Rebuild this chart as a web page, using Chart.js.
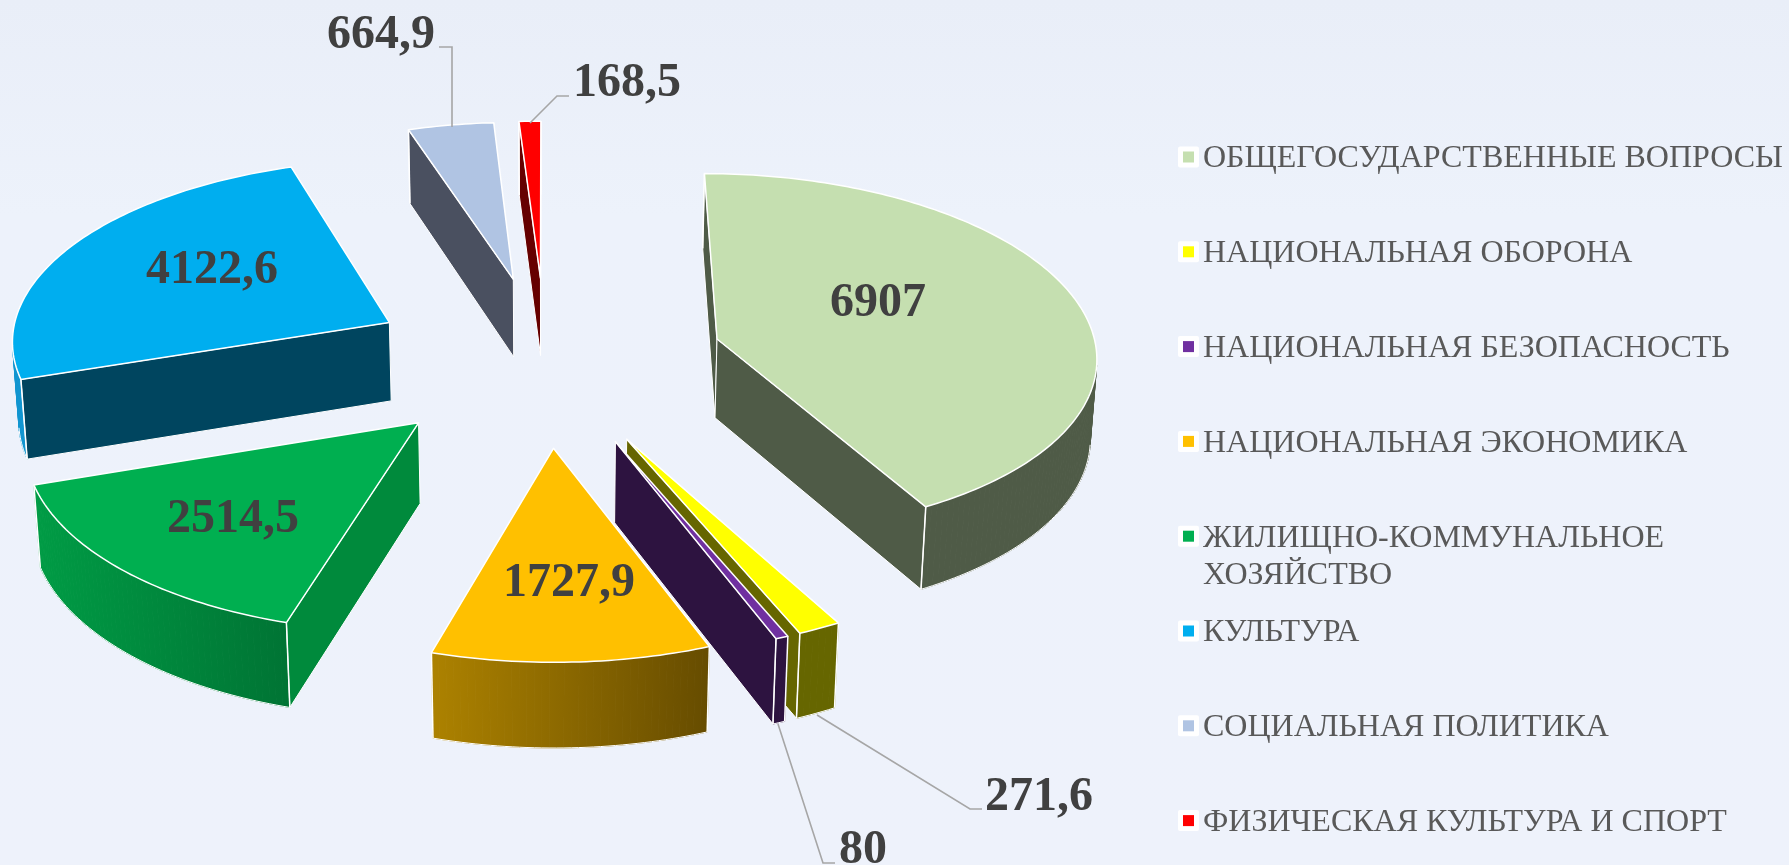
<!doctype html>
<html>
<head>
  <meta charset="utf-8">
  <script src="https://cdn.jsdelivr.net/npm/chart.js@4/dist/chart.umd.min.js"></script>
  <style>
    html, body { margin: 0; padding: 0; background: linear-gradient(#e9eef8, #edf2fb 25%, #eef2fb); }
    #wrap { width: 1789px; height: 865px; }
  </style>
</head>
<body>
  <div id="wrap"><canvas id="c"></canvas></div>
  <script>
    const categories = ['ОБЩЕГОСУДАРСТВЕННЫЕ ВОПРОСЫ', 'НАЦИОНАЛЬНАЯ ОБОРОНА', 'НАЦИОНАЛЬНАЯ БЕЗОПАСНОСТЬ', 'НАЦИОНАЛЬНАЯ ЭКОНОМИКА',
      ['ЖИЛИЩНО-КОММУНАЛЬНОЕ', 'ХОЗЯЙСТВО'], 'КУЛЬТУРА', 'СОЦИАЛЬНАЯ ПОЛИТИКА', 'ФИЗИЧЕСКАЯ КУЛЬТУРА И СПОРТ'];
    const values = [6907, 271.6, 80, 1727.9, 2514.5, 4122.6, 664.9, 168.5];

    const topColors = ['#C5DFB0', '#FFFF00', '#7030A0', '#FFC000', '#00AF50', '#00AEEF', '#B0C4E3', '#FF0000'];
    const sideColors = ['#4F5B47', '#666600', '#2D1340', '#664C00', '#008A3C', '#00455F', '#4A5060', '#660000'];
    const rimFrom = ['#4F5B47', '#666600', '#2D1340', '#AD8200', '#009C45', '#1095D0', '#4A5060', '#660000'];
    const rimTo = ['#4F5B47', '#666600', '#2D1340', '#664C00', '#007434', '#1095D0', '#4A5060', '#660000'];

    // label centres and leader lines on the page
    const labelAt = [[878, 300], [1039, 794], [863, 847], [569, 580], [233, 516], [212, 267], [381, 32], [627, 80]];
    const leaders = [null, [[817, 715], [970, 809], [982, 809]], [[778, 724], [823, 863], [835, 863]], null, null, null,
      [[452, 127], [452, 47], [439, 47]], [[530, 123], [557, 96], [569, 96]]];

    const SERIF = '"Liberation Serif", serif';
    const EXPLODE = 0.468, PERSP = 0.08, SINK = 0.012, KX = 1.058, KY = 0.505, DEPTH = 0.223;

    const fmt = v => String(v).replace('.', ',');

    function project(el, u, v, z) {
      const w = 1 - PERSP * v + SINK * z;
      return [el.x + el.outerRadius * KX * u / w, el.y + el.outerRadius * (KY * v + DEPTH * z) / w];
    }

    function poly(ctx, pts) {
      ctx.beginPath();
      pts.forEach((p, i) => i ? ctx.lineTo(p[0], p[1]) : ctx.moveTo(p[0], p[1]));
      ctx.closePath();
    }

    // screen area sign tells which walls face the viewer
    function area(pts) {
      let a = 0;
      pts.forEach((p, i) => { const q = pts[(i + 1) % pts.length]; a += p[0] * q[1] - q[0] * p[1]; });
      return a / 2;
    }

    function drawSlice(ctx, el, i) {
      const mid = (el.startAngle + el.endAngle) / 2;
      const au = EXPLODE * Math.cos(mid), av = EXPLODE * Math.sin(mid);
      const steps = Math.max(2, Math.ceil((el.endAngle - el.startAngle) / (Math.PI / 180)));
      const rim = [];
      for (let s = 0; s <= steps; s++) {
        const a = el.startAngle + (el.endAngle - el.startAngle) * s / steps;
        rim.push([au + Math.cos(a), av + Math.sin(a)]);
      }
      const P = (g, z) => project(el, g[0], g[1], z);
      const apex = [au, av];

      const xs = rim.map(g => P(g, 0)[0]);
      const grad = ctx.createLinearGradient(Math.min(...xs), 0, Math.max(...xs), 0);
      grad.addColorStop(0, rimFrom[i]);
      grad.addColorStop(1, rimTo[i]);

      ctx.lineJoin = 'round';
      // curved wall
      for (let s = 0; s < steps; s++) {
        const q = [P(rim[s], 0), P(rim[s + 1], 0), P(rim[s + 1], 1), P(rim[s], 1)];
        if (area(q) <= 0) {
          poly(ctx, q);
          ctx.fillStyle = grad; ctx.fill();
          ctx.strokeStyle = grad; ctx.lineWidth = 1; ctx.stroke();
        }
      }
      // white bottom edge of the curved wall
      ctx.strokeStyle = '#ffffff';
      ctx.lineWidth = 1;
      for (let s = 0; s < steps; s++) {
        const q = [P(rim[s], 0), P(rim[s + 1], 0), P(rim[s + 1], 1), P(rim[s], 1)];
        if (area(q) <= 0) {
          ctx.beginPath(); ctx.moveTo(q[2][0], q[2][1]); ctx.lineTo(q[3][0], q[3][1]); ctx.stroke();
        }
      }
      // the two flat walls
      const flats = [
        [P(apex, 0), P(rim[0], 0), P(rim[0], 1), P(apex, 1)],
        [P(rim[steps], 0), P(apex, 0), P(apex, 1), P(rim[steps], 1)]
      ];
      flats.forEach(q => {
        if (area(q) <= 0) {
          poly(ctx, q);
          ctx.fillStyle = sideColors[i]; ctx.fill();
          ctx.strokeStyle = '#ffffff'; ctx.lineWidth = 1; ctx.stroke();
        }
      });
      // vertical edges at the ends of the rim
      [rim[0], rim[steps]].forEach(g => {
        const a = P(g, 0), b = P(g, 1);
        ctx.strokeStyle = '#ffffff'; ctx.lineWidth = 1.5;
        ctx.beginPath(); ctx.moveTo(a[0], a[1]); ctx.lineTo(b[0], b[1]); ctx.stroke();
      });
      // top face
      poly(ctx, [P(apex, 0)].concat(rim.map(g => P(g, 0))));
      ctx.fillStyle = topColors[i]; ctx.fill();
      ctx.strokeStyle = '#ffffff'; ctx.lineWidth = 1.5; ctx.stroke();
    }

    function drawLegend(ctx) {
      ctx.save();
      ctx.textBaseline = 'middle';
      ctx.textAlign = 'left';
      categories.forEach((c, i) => {
        const y = 157 + i * 94.8;
        ctx.fillStyle = '#ffffff';
        ctx.beginPath(); ctx.roundRect(1178, y - 10.5, 21, 21, 2); ctx.fill();
        ctx.fillStyle = topColors[i];
        ctx.fillRect(1183, y - 5.5, 11, 11);
        ctx.fillStyle = '#595959';
        ctx.font = '32px ' + SERIF;
        [].concat(c).forEach((line, n) => ctx.fillText(line, 1203, y + 2 + n * 37));
      });
      ctx.restore();
    }

    function drawLabels(ctx) {
      ctx.save();
      leaders.forEach(l => {
        if (!l) return;
        ctx.strokeStyle = '#A6A6A6'; ctx.lineWidth = 1.6;
        ctx.beginPath();
        l.forEach((p, n) => n ? ctx.lineTo(p[0], p[1]) : ctx.moveTo(p[0], p[1]));
        ctx.stroke();
      });
      ctx.font = 'bold 48px ' + SERIF;
      ctx.fillStyle = '#404040';
      ctx.textAlign = 'center';
      ctx.textBaseline = 'middle';
      values.forEach((v, i) => ctx.fillText(fmt(v), labelAt[i][0], labelAt[i][1] + 3.5));
      ctx.restore();
    }

    const pie3d = {
      id: 'pie3d',
      beforeDatasetDraw(chart, args) {
        const ctx = chart.ctx;
        const arcs = chart.getDatasetMeta(args.index).data;
        const order = arcs.map((el, i) => i).sort((a, b) =>
          Math.sin((arcs[a].startAngle + arcs[a].endAngle) / 2) - Math.sin((arcs[b].startAngle + arcs[b].endAngle) / 2));
        ctx.save();
        order.forEach(i => drawSlice(ctx, arcs[i], i));
        ctx.restore();
        return false;
      },
      afterDraw(chart) {
        drawLabels(chart.ctx);
        drawLegend(chart.ctx);
      }
    };

    new Chart(document.getElementById('c'), {
      type: 'pie',
      data: {
        labels: categories,
        datasets: [{ data: values, backgroundColor: topColors, borderWidth: 0 }]
      },
      options: {
        responsive: true,
        maintainAspectRatio: false,
        animation: false,
        layout: { padding: { left: 0, top: 0, right: 697, bottom: 145 } },
        plugins: { legend: { display: false }, tooltip: { enabled: false } }
      },
      plugins: [pie3d]
    });
  </script>
</body>
</html>
